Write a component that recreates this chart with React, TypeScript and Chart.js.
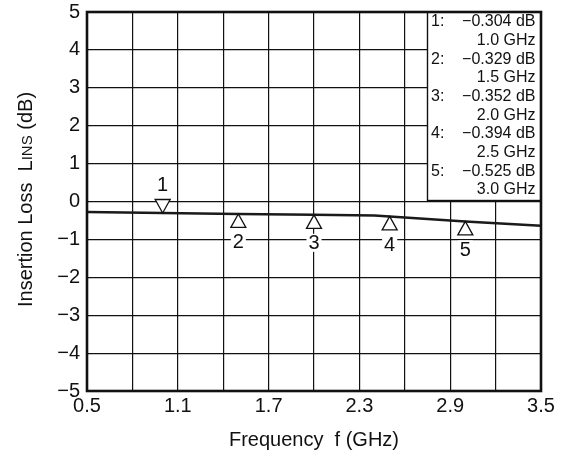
import React, { useEffect, useRef } from "react";
import { Chart, registerables } from "chart.js";

Chart.register(...registerables);

// ---- data ----
const traceFreqGHz = [0.5, 1.0, 1.5, 2.0, 2.4, 2.5, 3.0, 3.5];
const traceLossDb = [-0.28, -0.304, -0.329, -0.352, -0.37, -0.394, -0.525, -0.64];

const markerIds = [1, 2, 3, 4, 5];
const markerFreqGHz = [1.0, 1.5, 2.0, 2.5, 3.0];
const markerLossDb = [-0.304, -0.329, -0.352, -0.394, -0.525];
const markerPointsDown = [true, false, false, false, false];

const xGridTicks = [0.5, 0.8, 1.1, 1.4, 1.7, 2.0, 2.3, 2.6, 2.9, 3.2, 3.5];
const xLabelTicks = ["0.5", "1.1", "1.7", "2.3", "2.9", "3.5"];
const yTicks = [-5, -4, -3, -2, -1, 0, 1, 2, 3, 4, 5];

const xTitle = "Frequency  f (GHz)";
const yTitleParts = ["Insertion Loss  L", "INS", " (dB)"];

const FONT = '"Liberation Sans", Arial, Helvetica, sans-serif';
const INK = "#111";

const fmtMinus = (v: number) => (v < 0 ? "\u2212" + String(Math.abs(v)) : String(v));
const fmtDb = (v: number) => (v < 0 ? "\u2212" : "") + Math.abs(v).toFixed(3) + " dB";
const fmtGHz = (v: number) => v.toFixed(1) + " GHz";

const overlayPlugin = {
  id: "overlay",
  afterDraw(chart: any) {
    const { ctx, chartArea: ca } = chart;
    const xs = chart.scales.x;
    const ys = chart.scales.y;
    ctx.save();

    // marker readout box (top right)
    const bx = xs.getPixelForValue(2.75);
    const bb = ys.getPixelForValue(0) - 1;
    ctx.fillStyle = "#fff";
    ctx.fillRect(bx, ca.top, ca.right - bx, bb - ca.top);
    ctx.strokeStyle = INK;
    ctx.lineWidth = 1.4;
    ctx.strokeRect(bx, ca.top, ca.right - bx, bb - ca.top);
    ctx.font = "16px " + FONT;
    ctx.fillStyle = INK;
    ctx.textBaseline = "middle";
    const rowH = 18.65;
    markerIds.forEach((id, i) => {
      const ry = ca.top + 10 + i * 2 * rowH;
      ctx.textAlign = "left";
      ctx.fillText(id + ":", bx + 3.5, ry);
      ctx.textAlign = "right";
      ctx.fillText(fmtDb(markerLossDb[i]), ca.right - 5.5, ry);
      ctx.fillText(fmtGHz(markerFreqGHz[i]), ca.right - 5.5, ry + rowH);
    });

    // markers
    const triW = 15;
    const triH = 13.5;
    ctx.font = "20px " + FONT;
    markerIds.forEach((id, i) => {
      const px = xs.getPixelForValue(markerFreqGHz[i]);
      const py = ys.getPixelForValue(markerLossDb[i]);
      const down = markerPointsDown[i];
      const baseY = down ? py - triH : py + triH;
      ctx.beginPath();
      ctx.moveTo(px, py);
      ctx.lineTo(px - triW / 2, baseY);
      ctx.lineTo(px + triW / 2, baseY);
      ctx.closePath();
      ctx.fillStyle = "#fff";
      ctx.fill();
      ctx.strokeStyle = INK;
      ctx.lineWidth = 1.3;
      ctx.stroke();
      const ly = down ? py - 29 : py + 28;
      const label = String(id);
      const tw = ctx.measureText(label).width;
      ctx.fillStyle = "#fff";
      ctx.fillRect(px - tw / 2 - 2, ly - 9, tw + 4, 18);
      ctx.fillStyle = INK;
      ctx.textAlign = "center";
      ctx.textBaseline = "middle";
      ctx.fillText(label, px, ly + 1);
    });

    // frame
    ctx.strokeStyle = INK;
    ctx.lineWidth = 2.6;
    ctx.strokeRect(ca.left, ca.top, ca.right - ca.left, ca.bottom - ca.top);

    // y axis title with small caps "INS"
    const sizes = [20, 15, 20];
    const widths = yTitleParts.map((t, i) => {
      ctx.font = sizes[i] + "px " + FONT;
      return ctx.measureText(t).width;
    });
    const total = widths.reduce((a, b) => a + b, 0);
    const cy = (ca.top + ca.bottom) / 2 - 2;
    ctx.translate(31.5, cy);
    ctx.rotate(-Math.PI / 2);
    ctx.fillStyle = INK;
    ctx.textAlign = "left";
    ctx.textBaseline = "alphabetic";
    let cx = -total / 2;
    yTitleParts.forEach((t, i) => {
      ctx.font = sizes[i] + "px " + FONT;
      ctx.fillText(t, cx, 0);
      cx += widths[i];
    });

    ctx.restore();
  },
};

export default function App() {
  const canvasRef = useRef<HTMLCanvasElement | null>(null);

  useEffect(() => {
    if (!canvasRef.current) return;
    const chart = new Chart(canvasRef.current, {
      type: "line",
      data: {
        datasets: [
          {
            data: traceFreqGHz.map((f, i) => ({ x: f, y: traceLossDb[i] })),
            borderColor: "#1a1a1a",
            borderWidth: 2.5,
            pointRadius: 0,
            fill: false,
            tension: 0,
          },
        ],
      },
      options: {
        animation: false,
        responsive: true,
        maintainAspectRatio: false,
        layout: { padding: { top: 12, right: 23, left: 0, bottom: 0 } },
        plugins: {
          legend: { display: false },
          tooltip: { enabled: false },
        },
        scales: {
          x: {
            type: "linear",
            min: 0.5,
            max: 3.5,
            afterBuildTicks: (scale: any) => {
              scale.ticks = xGridTicks.map((v) => ({ value: v }));
            },
            afterFit: (scale: any) => {
              scale.height = 75;
            },
            grid: { color: INK, lineWidth: 1.2, drawTicks: false },
            border: { display: false },
            ticks: {
              autoSkip: false,
              maxRotation: 0,
              padding: 3,
              color: INK,
              font: { family: FONT, size: 20 },
              callback: (v: any) => {
                const s = Number(v).toFixed(1);
                return xLabelTicks.includes(s) ? s : "";
              },
            },
            title: {
              display: true,
              text: xTitle,
              color: INK,
              font: { family: FONT, size: 20 },
              padding: { top: 0, bottom: 14 },
            },
          },
          y: {
            type: "linear",
            min: -5,
            max: 5,
            afterBuildTicks: (scale: any) => {
              scale.ticks = yTicks.map((v) => ({ value: v }));
            },
            afterFit: (scale: any) => {
              scale.width = 87;
            },
            grid: {
              color: INK,
              lineWidth: 1.2,
              drawTicks: true,
              tickLength: 7,
              tickColor: "rgba(0,0,0,0)",
            },
            border: { display: false },
            ticks: {
              autoSkip: false,
              padding: 0,
              color: INK,
              font: { family: FONT, size: 20 },
              callback: (v: any) => fmtMinus(Number(v)),
            },
          },
        },
      },
      plugins: [overlayPlugin],
    });
    return () => chart.destroy();
  }, []);

  return (
    <div style={{ position: "fixed", left: 0, top: 0, width: 564, height: 466, background: "#fff" }}>
      <canvas ref={canvasRef} />
    </div>
  );
}
